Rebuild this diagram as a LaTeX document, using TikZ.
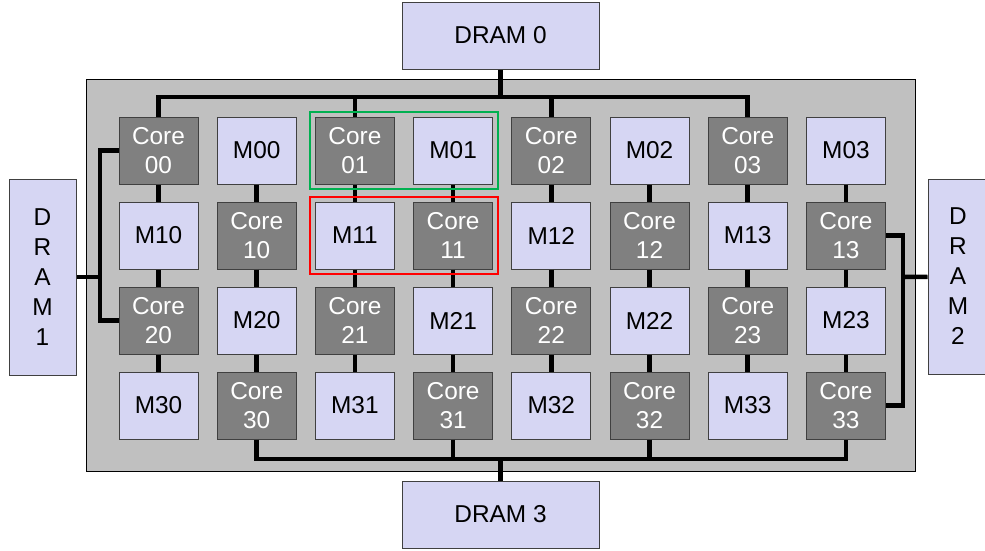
\documentclass[tikz,border=0pt]{standalone}
\usepackage{fontspec}
\setmainfont{Liberation Sans}
\usetikzlibrary{fit}

\definecolor{memfill}{RGB}{214,214,243}
\definecolor{corefill}{RGB}{128,128,128}
\definecolor{chipfill}{RGB}{192,192,192}
\definecolor{hlgreen}{RGB}{0,176,80}

\tikzset{
  membox/.style={draw=black!75, line width=0.75pt, fill=memfill, align=center, minimum width=59.25pt, minimum height=50.25pt, inner sep=0pt, font=\fontsize{18.3pt}{21.75pt}\selectfont},
  corebox/.style={membox, fill=corefill, text=white},
  drambox/.style={membox, font=\fontsize{18.3pt}{22.5pt}\selectfont},
  meshline/.style={line width=3.4pt},
  busline/.style={line width=3.4pt, line join=miter},
  chip/.style={draw=black, line width=0.75pt, fill=chipfill},
  hlbox/.style={draw, line width=1.6pt, inner sep=3.6pt}
}

\begin{document}
\begin{tikzpicture}[x=0.75pt,y=-0.75pt]
  \useasboundingbox (0,0) rectangle (985,550);

  \draw[chip] (86.5,79) rectangle (915.5,471);

  % memories and cores
  \foreach \r in {0,...,3} {
    \foreach \k in {0,...,7} {
      \pgfmathtruncatemacro{\j}{div(\k,2)}
      \pgfmathtruncatemacro{\odd}{mod(\k+\r,2)}
      \ifnum\odd=0
        \node[corebox] (g\r\k) at ({158.5+98.2*\k},{150.5+85*\r}) {Core\\\r\j};
      \else
        \node[membox] (g\r\k) at ({158.5+98.2*\k},{150.5+85*\r}) {M\r\j};
      \fi
    }
  }

  % mesh links
  \foreach \r in {0,...,3}
    \foreach \k [evaluate=\k as \kk using int(\k+1)] in {0,...,6}
      \draw[meshline] (g\r\k) -- (g\r\kk);
  \foreach \r [evaluate=\r as \rr using int(\r+1)] in {0,...,2}
    \foreach \k in {0,...,7}
      \draw[meshline] (g\r\k) -- (g\rr\k);

  % DRAMs
  \node[drambox, minimum width=147.75pt] (dram0) at (500.5,35.5) {DRAM 0};
  \node[drambox, minimum width=147.75pt] (dram3) at (500.5,514.5) {DRAM 3};
  \node[drambox, minimum width=50.25pt, minimum height=147pt] (dram1) at (42.5,277) {D\\R\\A\\M\\1};
  \node[drambox, minimum width=45pt, minimum height=146.25pt] (dram2) at (958,276.5) {D\\R\\A\\M\\2};

  % buses
  \coordinate (topbus) at (500.5,97);
  \coordinate (botbus) at (500.5,459);
  \coordinate (leftbus) at (100,277);
  \coordinate (rightbus) at (903,277);

  \draw[busline] (dram0) -- (topbus);
  \draw[busline] (g00.north) |- (topbus) -| (g06.north);
  \foreach \k in {2,4}
    \draw[busline] (g0\k.north) -- (g0\k.north |- topbus);

  \draw[busline] (dram3) -- (botbus);
  \draw[busline] (g31.south) |- (botbus) -| (g37.south);
  \foreach \k in {3,5}
    \draw[busline] (g3\k.south) -- (g3\k.south |- botbus);

  \draw[busline] (dram1) -- (leftbus);
  \draw[busline] (g00.west) -| (leftbus) |- (g20.west);

  \draw[busline] (dram2) -- (rightbus);
  \draw[busline] (g17.east) -| (rightbus) |- (g37.east);

  % highlighted pairs
  \node[hlbox, draw=hlgreen, fit=(g02)(g03)] (hlcol) {};
  \node[hlbox, draw=red, fit=(g12)(g13)] (hlrow) {};
\end{tikzpicture}
\end{document}
